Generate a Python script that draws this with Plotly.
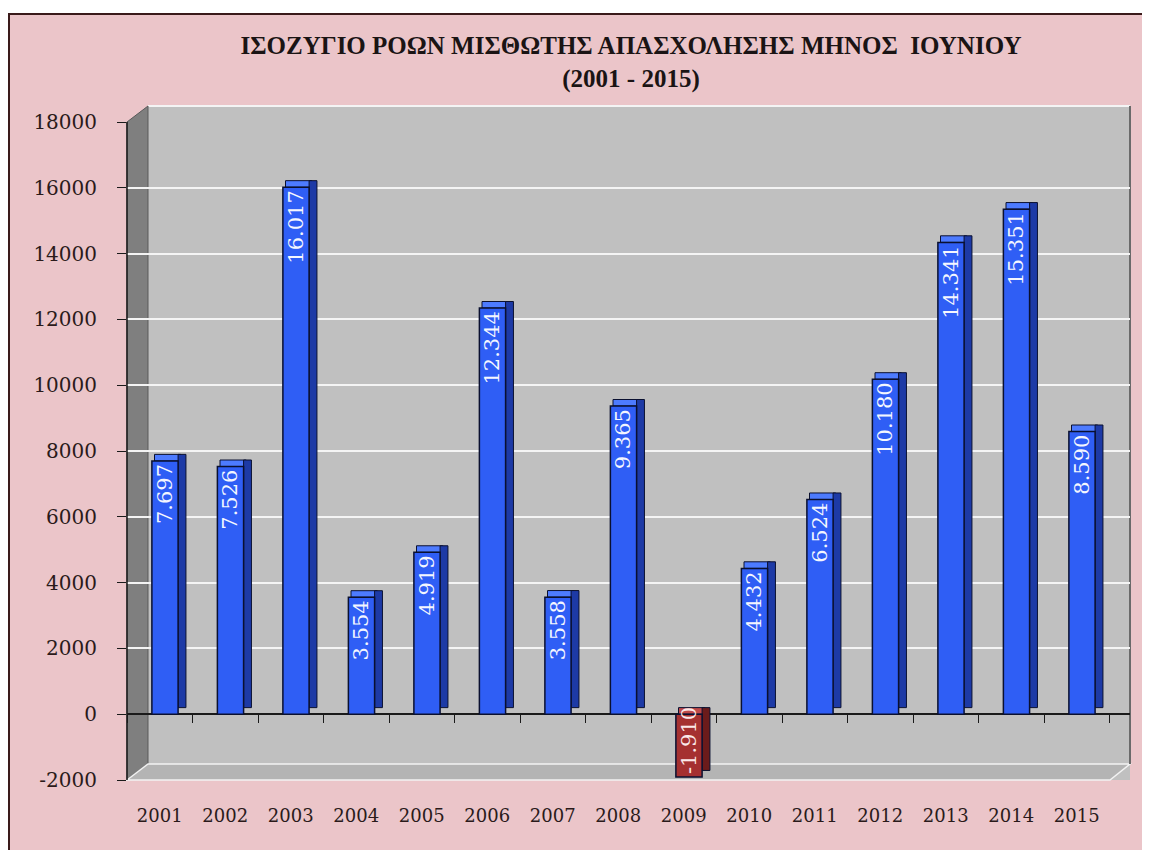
import plotly.graph_objects as go

years = ['2001', '2002', '2003', '2004', '2005', '2006', '2007', '2008',
         '2009', '2010', '2011', '2012', '2013', '2014', '2015']
values = [7697, 7526, 16017, 3554, 4919, 12344, 3558, 9365,
          -1910, 4432, 6524, 10180, 14341, 15351, 8590]
y_ticks = [-2000, 0, 2000, 4000, 6000, 8000, 10000, 12000, 14000, 16000, 18000]
y_tick_text = ['-2000', '0', '2000', '4000', '6000', '8000', '10000', '12000',
               '14000', '16000', '18000']

title_l1 = 'ΙΣΟΖΥΓΙΟ ΡΟΩΝ ΜΙΣΘΩΤΗΣ ΑΠΑΣΧΟΛΗΣΗΣ ΜΗΝΟΣ  ΙΟΥΝΙΟΥ'
title_l2 = '(2001 - 2015)'

labels = [f"{v:,}".replace(',', '.') for v in values]

# page has an 8px body margin, so the figure is drawn from (8, 8)
W, H = 1142, 842
L, R, T, B = 119, 20, 114, 70
PW = W - L - R
PH = H - T - B
DEPTH = 200  # 3D depth of bars in data units
CAT_PX = 65.5


def fx(x):
    return (x - L) / PW


def fy(y):
    return (H - B - y) / PH


front_col = ['#2f5ef5' if v >= 0 else '#a53030' for v in values]
side_col = ['#1d3aa6' if v >= 0 else '#6b1b1b' for v in values]
top_col = ['#4d7bff' if v >= 0 else '#c04a4a' for v in values]
txt_col = ['#f4f6ff' if v >= 0 else '#fbe8e8' for v in values]

fig = go.Figure()

# top face
fig.add_trace(go.Bar(
    x=years, y=[DEPTH] * len(values), base=[max(v, 0) for v in values],
    offset=-0.08, width=0.40, marker=dict(color=top_col, line=dict(color='#0a1030', width=1)),
    hoverinfo='skip', showlegend=False))
# side face
fig.add_trace(go.Bar(
    x=years, y=[abs(v) for v in values], base=[min(v, 0) + DEPTH for v in values],
    offset=0.28, width=0.12, marker=dict(color=side_col, line=dict(color='#0a1030', width=1)),
    hoverinfo='skip', showlegend=False))
# front face
fig.add_trace(go.Bar(
    x=years, y=values, offset=-0.12, width=0.40,
    marker=dict(color=front_col, line=dict(color='#0a1030', width=1.5)),
    text=labels, textposition='inside', insidetextanchor='end', textangle=-90,
    constraintext='none', cliponaxis=False,
    textfont=dict(family='DejaVu Serif', size=21, color=txt_col),
    showlegend=False))

shapes = []
# white strip above the page border
shapes.append(dict(type='rect', xref='paper', yref='paper', layer='below',
                   x0=fx(-10), x1=fx(W + 10), y0=fy(6), y1=fy(-10),
                   fillcolor='white', line=dict(width=0)))
# page border (top and left)
shapes.append(dict(type='line', xref='paper', yref='paper', layer='below',
                   x0=fx(0), x1=fx(W + 10), y0=fy(6), y1=fy(6),
                   line=dict(color='#3a1a1a', width=2)))
shapes.append(dict(type='line', xref='paper', yref='paper', layer='below',
                   x0=fx(1), x1=fx(1), y0=fy(6), y1=fy(H + 10),
                   line=dict(color='#3a1a1a', width=2)))
# back wall top strip
shapes.append(dict(type='path', xref='paper', yref='paper', layer='below',
                   path=f'M {fx(119)},{fy(114)} L {fx(140)},{fy(98)} L {fx(1122)},{fy(98)} L {fx(1122)},{fy(114)} Z',
                   fillcolor='#c0c0c0', line=dict(width=0)))
shapes.append(dict(type='line', xref='paper', yref='paper', layer='below',
                   x0=fx(140), x1=fx(1122), y0=fy(98), y1=fy(98),
                   line=dict(color='#f4f4f4', width=2)))
# left wall
shapes.append(dict(type='path', xref='paper', yref='paper', layer='between',
                   path=f'M {fx(119)},{fy(114)} L {fx(140)},{fy(98)} L {fx(140)},{fy(756)} L {fx(119)},{fy(772)} Z',
                   fillcolor='#7f7f7f', line=dict(color='#5a5a5a', width=1)))
# floor
shapes.append(dict(type='path', xref='paper', yref='paper', layer='between',
                   path=f'M {fx(119)},{fy(772)} L {fx(140)},{fy(756)} L {fx(1122)},{fy(756)} L {fx(1102)},{fy(772)} Z',
                   fillcolor='#b4b4b4', line=dict(color='#f2f2f2', width=1.5)))
# right wall edge
shapes.append(dict(type='line', xref='paper', yref='paper', layer='between',
                   x0=fx(1122), x1=fx(1122), y0=fy(756), y1=fy(98),
                   line=dict(color='#6a6a6a', width=2)))
# left axis line
shapes.append(dict(type='line', xref='paper', yref='paper', layer='above',
                   x0=0, x1=0, y0=0, y1=1, line=dict(color='#1a1a1a', width=1.5)))

fig.update_layout(
    width=W, height=H,
    margin=dict(l=L, r=R, t=T, b=B),
    paper_bgcolor='#ebc5c9',
    plot_bgcolor='#c0c0c0',
    barmode='overlay',
    separators=',.',
    shapes=shapes,
    title=dict(
        text=f'<b>{title_l1}</b><br><b>{title_l2}</b>',
        x=623 / W, xanchor='center', y=1 - 46 / H, yanchor='middle',
        font=dict(family='Liberation Serif', size=25, color='#1a1414')),
    xaxis=dict(
        type='category', categoryarray=years, range=[-0.5, PW / CAT_PX - 0.5],
        anchor='free', position=fy(706),
        showgrid=False, showline=False, zeroline=False,
        ticks='outside', tickson='boundaries', ticklen=8, tickcolor='#1a1a1a',
        tickfont=dict(family='DejaVu Serif', size=18, color='#2a1a1a'),
        ticklabelstandoff=89),
    yaxis=dict(
        range=[-2000, 18000], tickvals=y_ticks, ticktext=y_tick_text,
        showgrid=True, gridcolor='#f4f4f4', gridwidth=2,
        zeroline=True, zerolinecolor='#1a1a1a', zerolinewidth=2,
        ticks='outside', ticklen=9, tickcolor='#1a1a1a',
        ticklabelstandoff=16,
        tickfont=dict(family='DejaVu Serif', size=20, color='#2a1a1a')),
)

fig.write_html('out.html')
